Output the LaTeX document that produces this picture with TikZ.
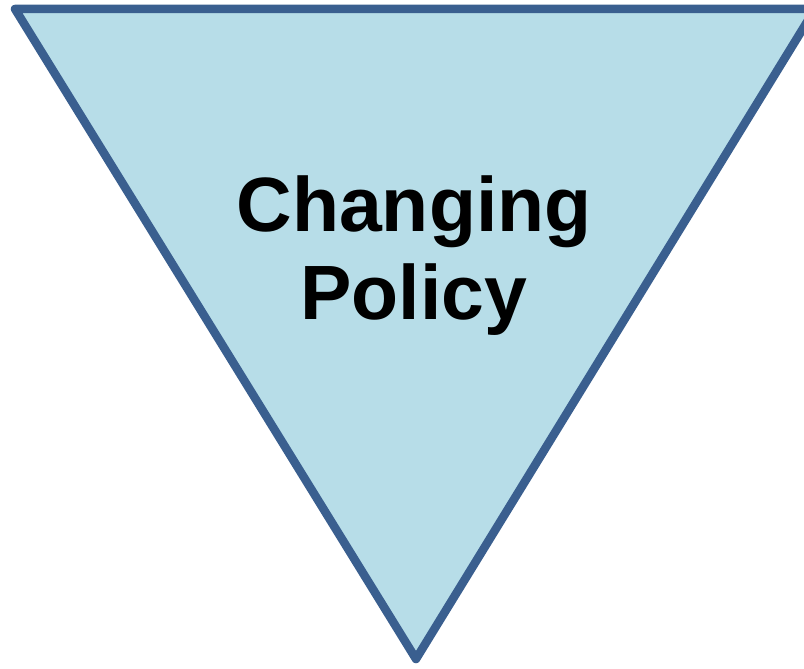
\documentclass[tikz,border=0pt]{standalone}
\usepackage{fontspec}
\setmainfont{Liberation Sans}
\definecolor{trifill}{HTML}{B7DDE8}
\definecolor{triline}{HTML}{3A5F8F}
\tikzset{
    funnel/.style={draw=triline, fill=trifill, line width=8.5pt, line join=round},
    caption/.style={align=center, font=\fontsize{77}{88}\selectfont\bfseries, inner sep=0pt}
}
\begin{document}
\begin{tikzpicture}[x=1pt, y=-1pt]
    \useasboundingbox (0,0) rectangle (804,669);
    \coordinate (tl) at (15,9);
    \coordinate (tr) at (815,9);
    \coordinate (bt) at (416,659);
    \draw[funnel] (tl) -- (tr) -- (bt) -- cycle;
    \node[caption] (policy) at (414,256) {Changing\\Policy};
\end{tikzpicture}
\end{document}
